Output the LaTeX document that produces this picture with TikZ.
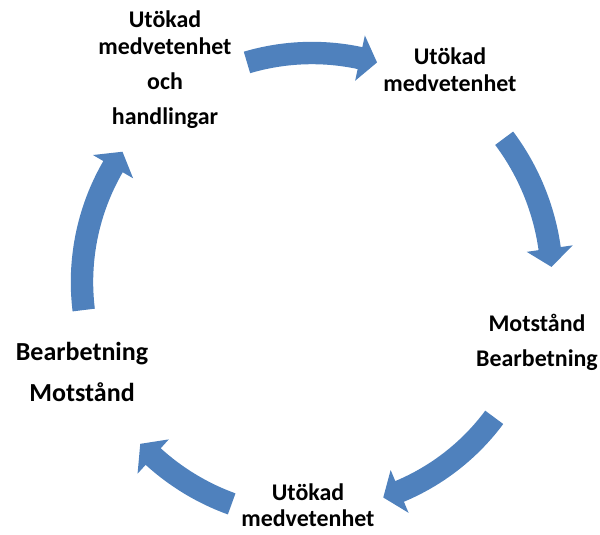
\documentclass[tikz,border=0pt]{standalone}
\usepackage{fontspec}
\setmainfont{Carlito}
\usetikzlibrary{calc}
\definecolor{cycleBlue}{RGB}{79,129,189}

% block arc arrow: start angle, tip angle, centre radius
\newcommand{\cyclearrow}[3]{%
  \pgfmathsetmacro\ro{#3+0.28}\pgfmathsetmacro\ri{#3-0.28}%
  \pgfmathsetmacro\rho{#3+0.58}\pgfmathsetmacro\rhi{#3-0.58}%
  \pgfmathsetmacro\hb{#2+4.4}%
  \fill[cycleBlue] (#1:\ro) arc[start angle=#1,end angle=\hb,radius=\ro]
    -- (\hb:\rho) -- (#2:#3) -- (\hb:\rhi) -- (\hb:\ri)
    arc[start angle=\hb,end angle=#1,radius=\ri] -- cycle;}

\begin{document}
\begin{tikzpicture}[x=1cm,y=1cm,
  cycletext/.style={align=center,inner sep=0pt,font=\bfseries\fontsize{17}{19}\selectfont},
  bigtext/.style={align=center,inner sep=0pt,font=\bfseries\fontsize{18.5}{21}\selectfont}]
\path[use as bounding box] (0,0) rectangle (15,13.35);

\node[cycletext] (awareActs) at (4.125,11.6) {Utökad\\medvetenhet\\[6pt]och\\[6pt]handlingar};
\node[cycletext] (awareTop) at (11.25,11.6) {Utökad\\medvetenhet};
\node[cycletext] (resistRight) at (13.425,4.8) {Motstånd\\[6pt]Bearbetning};
\node[cycletext] (awareBottom) at (7.7,0.72) {Utökad\\medvetenhet};
\node[bigtext] (processLeft) at (2.05,4.05) {Bearbetning\\[8pt]Motstånd};

\begin{scope}[shift={(7.8,6.3)}]
\cyclearrow{106.5}{73.5}{5.725}
\cyclearrow{36.8}{3.6}{6.0}
\cyclearrow{-36.6}{-71.7}{5.675}
\cyclearrow{-109.9}{-136.7}{5.9}
\cyclearrow{-173}{-214.5}{5.75}
\end{scope}
\end{tikzpicture}
\end{document}
